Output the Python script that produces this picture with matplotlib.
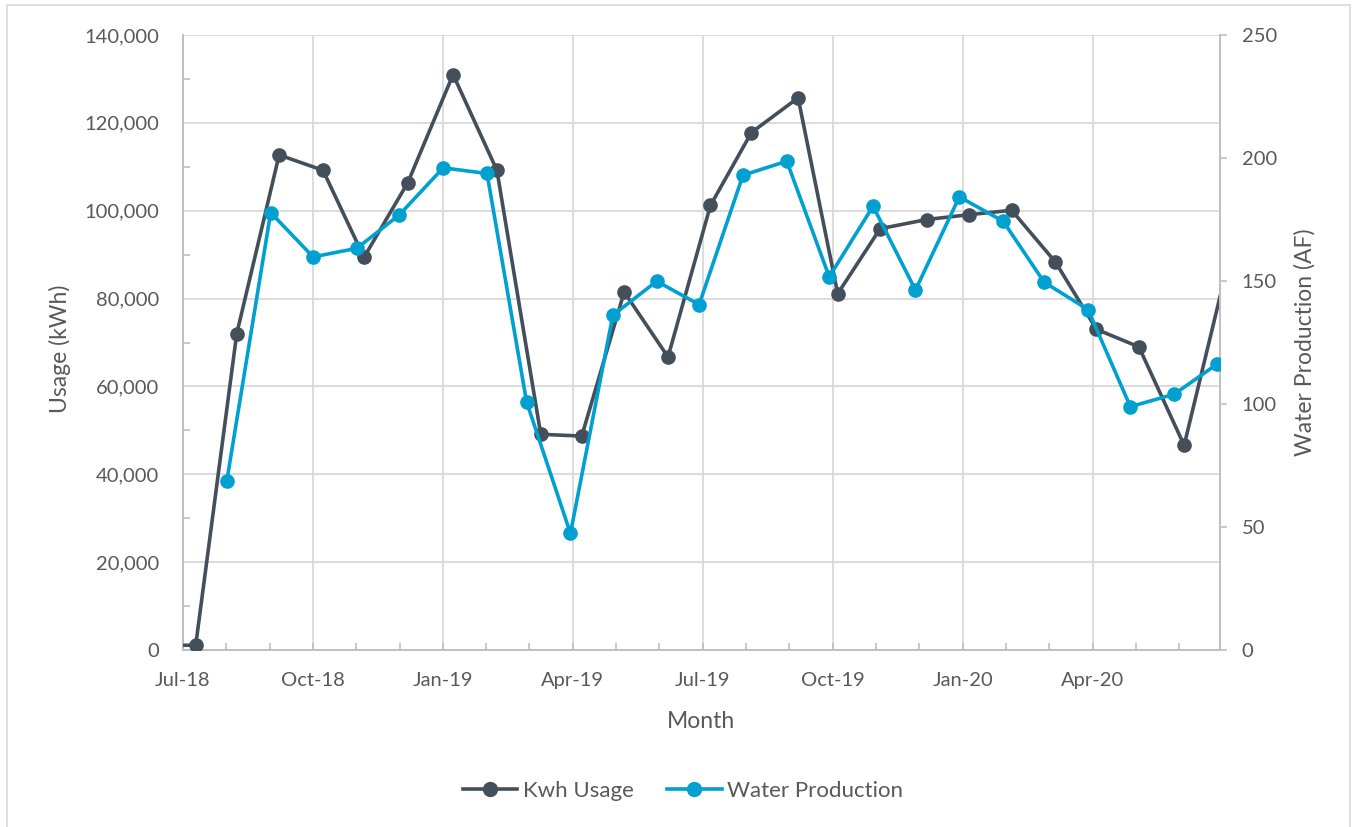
import numpy as np
import matplotlib
matplotlib.use("Agg")
import matplotlib.pyplot as plt
import matplotlib.dates as mdates
from matplotlib.ticker import FuncFormatter, MultipleLocator
from matplotlib.lines import Line2D
from matplotlib.patches import Rectangle

# ---------------- data ----------------
kwh_dates = ["2018-06-08", "2018-07-10", "2018-08-08", "2018-09-07", "2018-10-08",
             "2018-11-06", "2018-12-07", "2019-01-08", "2019-02-08", "2019-03-11",
             "2019-04-09", "2019-05-09", "2019-06-09", "2019-07-09", "2019-08-07",
             "2019-09-09", "2019-10-07", "2019-11-06", "2019-12-09", "2020-01-08",
             "2020-02-07", "2020-03-09", "2020-04-07", "2020-05-07", "2020-06-08",
             "2020-07-08"]
kwh_usage = [1000, 1100, 72000, 112700, 109200,
             89400, 106400, 131000, 109200, 49100,
             48700, 81500, 66700, 101200, 117800,
             125700, 81100, 95900, 98000, 99100,
             100100, 88300, 73000, 69000, 46600,
             86600]

water_dates = ["2018-08-01", "2018-09-01", "2018-10-01", "2018-11-01", "2018-12-01",
               "2019-01-01", "2019-02-01", "2019-03-01", "2019-04-01", "2019-05-01",
               "2019-06-01", "2019-07-01", "2019-08-01", "2019-09-01", "2019-10-01",
               "2019-11-01", "2019-12-01", "2020-01-01", "2020-02-01", "2020-03-01",
               "2020-04-01", "2020-05-01", "2020-06-01", "2020-07-01"]
water_production = [68.8, 177.8, 159.8, 163.3, 176.9,
                     196.0, 193.7, 100.8, 47.4, 136.1,
                     149.9, 140.4, 193.0, 198.7, 151.7,
                     180.4, 146.3, 184.2, 174.3, 149.5,
                     138.4, 98.9, 104.0, 116.1]

quarter_labels = ["Jul-18", "Oct-18", "Jan-19", "Apr-19", "Jul-19", "Oct-19", "Jan-20", "Apr-20"]
axis_start = "2018-07-01"

# ---------------- style ----------------
plt.rcParams['font.family'] = ['Lato', 'DejaVu Sans']
TEXT = '#595959'
GRID = '#d9d9d9'
SPINE = '#bfbfbf'
KWH_C = '#434f5a'
WATER_C = '#00a0d1'

fig = plt.figure(figsize=(13.53, 8.27), dpi=100)
W, H = 1353, 827
ax = fig.add_axes([183 / W, 1 - 650 / H, (1219.5 - 183) / W, (650 - 35) / H])
ax2 = ax.twinx()

# chart border
fig.patches.append(Rectangle((7 / W, -0.05), (1350 - 7) / W, 1 - 5 / H + 0.05,
                             transform=fig.transFigure, fill=False,
                             edgecolor=GRID, lw=1.2))

kx = mdates.datestr2num(kwh_dates)
wx = mdates.datestr2num(water_dates)
x0 = mdates.datestr2num(axis_start)

ax.plot(kx, kwh_usage, color=KWH_C, lw=2.6, marker='o', ms=9.5, zorder=3,
        label='Kwh Usage')
ax2.plot(wx, water_production, color=WATER_C, lw=2.6, marker='o', ms=9.5, zorder=3,
         label='Water Production')

# x axis: evenly spaced monthly ticks (Excel style)
tick_step = 30.63
month_ticks = x0 + np.arange(24) * tick_step
ax.set_xlim(x0, x0 + 733)
ax.set_xticks(month_ticks[::3][:len(quarter_labels)], quarter_labels)
ax.set_xticks(month_ticks, minor=True)

ax.set_ylim(0, 140000)
ax.yaxis.set_major_locator(MultipleLocator(20000))
ax.yaxis.set_minor_locator(MultipleLocator(10000))
ax.yaxis.set_major_formatter(FuncFormatter(lambda v, p: f"{int(v):,}"))

ax2.set_ylim(0, 250)
ax2.yaxis.set_major_locator(MultipleLocator(50))

ax.grid(True, which='major', color=GRID, lw=1.3)
ax.set_axisbelow(True)

for s in ['top', 'right']:
    ax.spines[s].set_visible(False)
for s in ['left', 'bottom']:
    ax.spines[s].set_color(SPINE)
    ax.spines[s].set_linewidth(1.4)
for s in ['left', 'top', 'bottom']:
    ax2.spines[s].set_visible(False)
ax2.spines['right'].set_color(SPINE)
ax2.spines['right'].set_linewidth(1.4)

ax.tick_params(axis='x', which='both', direction='in', length=5, color=SPINE,
               width=1.2, labelsize=14.5, labelcolor=TEXT, pad=16)
ax.tick_params(axis='y', which='major', length=0, labelsize=14.5, labelcolor=TEXT, pad=17)
ax.tick_params(axis='y', which='minor', direction='in', length=5, color=SPINE, width=1.2)
ax2.tick_params(axis='y', which='major', direction='out', length=5, color=SPINE,
                width=1.2, labelsize=14.5, labelcolor=TEXT, pad=11)

ax.set_xlabel('Month', fontsize=16.5, color=TEXT)
ax.xaxis.set_label_coords(0.5, -0.099)
ax.set_ylabel('Usage (kWh)', fontsize=16.5, color=TEXT, va='center')
ax.yaxis.set_label_coords(-0.1187, 0.49)
ax2.set_ylabel('Water Production (AF)', fontsize=16.5, color=TEXT, va='center',
               rotation=90)
ax2.yaxis.set_label_coords(1.0827, 0.5)

handles = [Line2D([], [], color=KWH_C, lw=2.6, marker='o', ms=10),
           Line2D([], [], color=WATER_C, lw=2.6, marker='o', ms=10)]
leg = fig.legend(handles, ['Kwh Usage', 'Water Production'], loc='center',
                 bbox_to_anchor=(683 / W, 1 - 791 / H), ncol=2, frameon=False,
                 fontsize=16, handlelength=2.45, handletextpad=0.25,
                 columnspacing=1.5)
for t in leg.get_texts():
    t.set_color(TEXT)

fig.savefig('out.png', dpi=100)
